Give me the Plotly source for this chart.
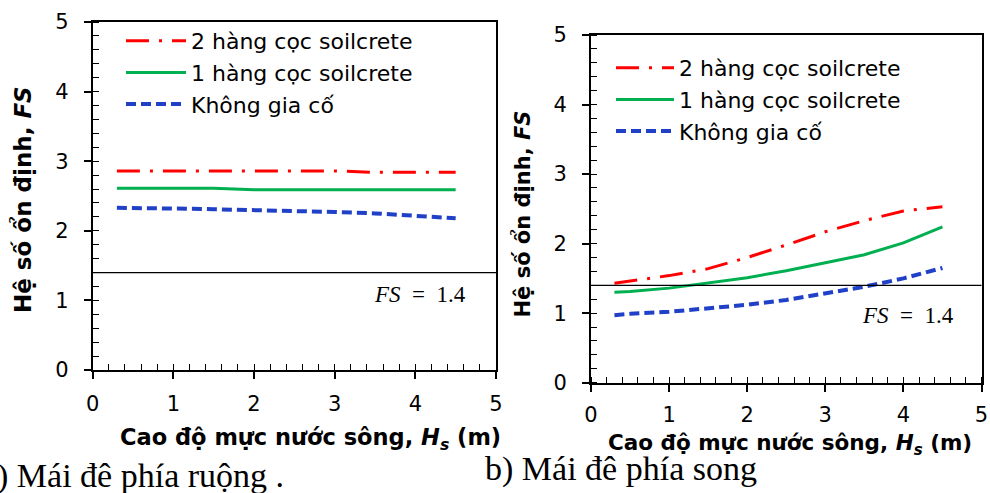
import plotly.graph_objects as go

# ---------------- data ----------------
hs = [0.3, 0.5, 1.0, 1.5, 2.0, 2.5, 3.0, 3.5, 4.0, 4.5]

# a) Mái đê phía ruộng
left_2rows = [2.86, 2.86, 2.86, 2.86, 2.86, 2.86, 2.86, 2.84, 2.84, 2.84]
left_1row = [2.61, 2.61, 2.61, 2.61, 2.59, 2.59, 2.59, 2.59, 2.59, 2.59]
left_none = [2.33, 2.33, 2.32, 2.31, 2.30, 2.29, 2.27, 2.25, 2.22, 2.18]

# b) Mái đê phía song
right_2rows = [1.43, 1.46, 1.54, 1.64, 1.80, 1.98, 2.17, 2.33, 2.47, 2.53]
right_1row = [1.30, 1.31, 1.36, 1.43, 1.51, 1.61, 1.72, 1.84, 2.01, 2.24]
right_none = [0.97, 0.99, 1.02, 1.07, 1.12, 1.19, 1.28, 1.38, 1.50, 1.65]

series_names = ["2 hàng cọc soilcrete", "1 hàng cọc soilcrete", "Không gia cố"]
fs_limit = 1.4
x_ticks = [0, 1, 2, 3, 4, 5]
y_ticks = [0, 1, 2, 3, 4, 5]

# ---------------- styles ----------------
W, H = 990, 493
SANS = "DejaVu Sans"
SERIF = "Liberation Serif"
styles = [
    dict(color="#FF0000", width=3, dash="23px,10px,3px,10px"),
    dict(color="#00B050", width=3, dash="solid"),
    dict(color="#2040C8", width=4, dash="10px,5px"),
]

fig = go.Figure()

for vals, st, name in zip([left_2rows, left_1row, left_none], styles, series_names):
    fig.add_trace(go.Scatter(x=hs, y=vals, mode="lines", name=name, line=st,
                             xaxis="x", yaxis="y", legend="legend"))
for vals, st, name in zip([right_2rows, right_1row, right_none], styles, series_names):
    fig.add_trace(go.Scatter(x=hs, y=vals, mode="lines", name=name, line=st,
                             xaxis="x2", yaxis="y2", legend="legend2"))


def px_x(p):
    return p / W


def px_y(p):
    return 1 - p / H


axis_common = dict(
    range=[0, 5], showgrid=False, zeroline=False, showline=True, mirror=True,
    linecolor="black", linewidth=2, ticks="outside", ticklen=7, tickwidth=1.5,
    tickcolor="black", tickfont=dict(family=SANS, size=21, color="black"),
    minor=dict(ticks="inside", ticklen=6, tickwidth=1.2, tickcolor="black", dtick=0.2),
    tickmode="array", automargin=False,
)

fig.update_layout(
    width=W, height=H, margin=dict(l=0, r=0, t=0, b=0, autoexpand=False),
    paper_bgcolor="white", plot_bgcolor="white",
    xaxis=dict(axis_common, domain=[px_x(92.7), px_x(496)], anchor="y",
               tickvals=x_ticks, ticklabelstandoff=7),
    yaxis=dict(axis_common, domain=[px_y(370), px_y(22)], anchor="x",
               tickvals=y_ticks, ticklabelstandoff=11),
    xaxis2=dict(axis_common, domain=[px_x(591), px_x(981.5)], anchor="y2",
                tickvals=x_ticks, ticklabelstandoff=5),
    yaxis2=dict(axis_common, domain=[px_y(382.7), px_y(35)], anchor="x2",
                tickvals=y_ticks, ticklabelstandoff=11),
    legend=dict(x=px_x(121), y=px_y(20), xanchor="left", yanchor="top",
                bgcolor="rgba(0,0,0,0)", font=dict(family=SANS, size=22, color="black"),
                tracegroupgap=0, itemwidth=60),
    legend2=dict(x=px_x(611), y=px_y(47), xanchor="left", yanchor="top",
                 bgcolor="rgba(0,0,0,0)", font=dict(family=SANS, size=22, color="black"),
                 tracegroupgap=0, itemwidth=58),
    showlegend=True,
)

# reference line FS = 1.4
for xr, yr in [("x", "y"), ("x2", "y2")]:
    fig.add_shape(type="line", xref=f"{xr} domain", yref=yr, x0=0, x1=1,
                  y0=fs_limit, y1=fs_limit, line=dict(color="black", width=1.2))

fs_text = "<i>FS</i>\u00a0\u00a0=\u00a0\u00a01.4"
fig.add_annotation(x=4.65, y=1.08, xref="x", yref="y", text=fs_text, showarrow=False,
                   xanchor="right", yanchor="middle",
                   font=dict(family=SERIF, size=23, color="black"))
fig.add_annotation(x=4.67, y=0.97, xref="x2", yref="y2", text=fs_text, showarrow=False,
                   xanchor="right", yanchor="middle",
                   font=dict(family=SERIF, size=23, color="black"))

xtitle = "<b>Cao độ mực nước sông, <i>H</i><sub><i>s</i></sub> (m)</b>"
ytitle = "<b>Hệ số ổn định, <i>FS</i></b>"

fig.add_annotation(x=px_x(310), y=px_y(439), xref="paper", yref="paper", text=xtitle,
                   showarrow=False, xanchor="center", yanchor="middle",
                   font=dict(family=SANS, size=22.5, color="black"))
fig.add_annotation(x=px_x(790), y=px_y(444), xref="paper", yref="paper", text=xtitle,
                   showarrow=False, xanchor="center", yanchor="middle",
                   font=dict(family=SANS, size=21.5, color="black"))
fig.add_annotation(x=px_x(22), y=px_y(200), xref="paper", yref="paper", text=ytitle,
                   showarrow=False, xanchor="center", yanchor="middle", textangle=-90,
                   font=dict(family=SANS, size=23, color="black"))
fig.add_annotation(x=px_x(522.5), y=px_y(214), xref="paper", yref="paper", text=ytitle,
                   showarrow=False, xanchor="center", yanchor="middle", textangle=-90,
                   font=dict(family=SANS, size=21, color="black"))

# captions
fig.add_annotation(x=px_x(-5), y=px_y(476), xref="paper", yref="paper",
                   text=") Mái đê phía ruộng .", showarrow=False, xanchor="left",
                   yanchor="middle", font=dict(family=SERIF, size=34, color="black"))
fig.add_annotation(x=px_x(483), y=px_y(469), xref="paper", yref="paper",
                   text="b) Mái đê phía song", showarrow=False, xanchor="left",
                   yanchor="middle", font=dict(family=SERIF, size=34, color="black"))

fig.write_html("out.html")
